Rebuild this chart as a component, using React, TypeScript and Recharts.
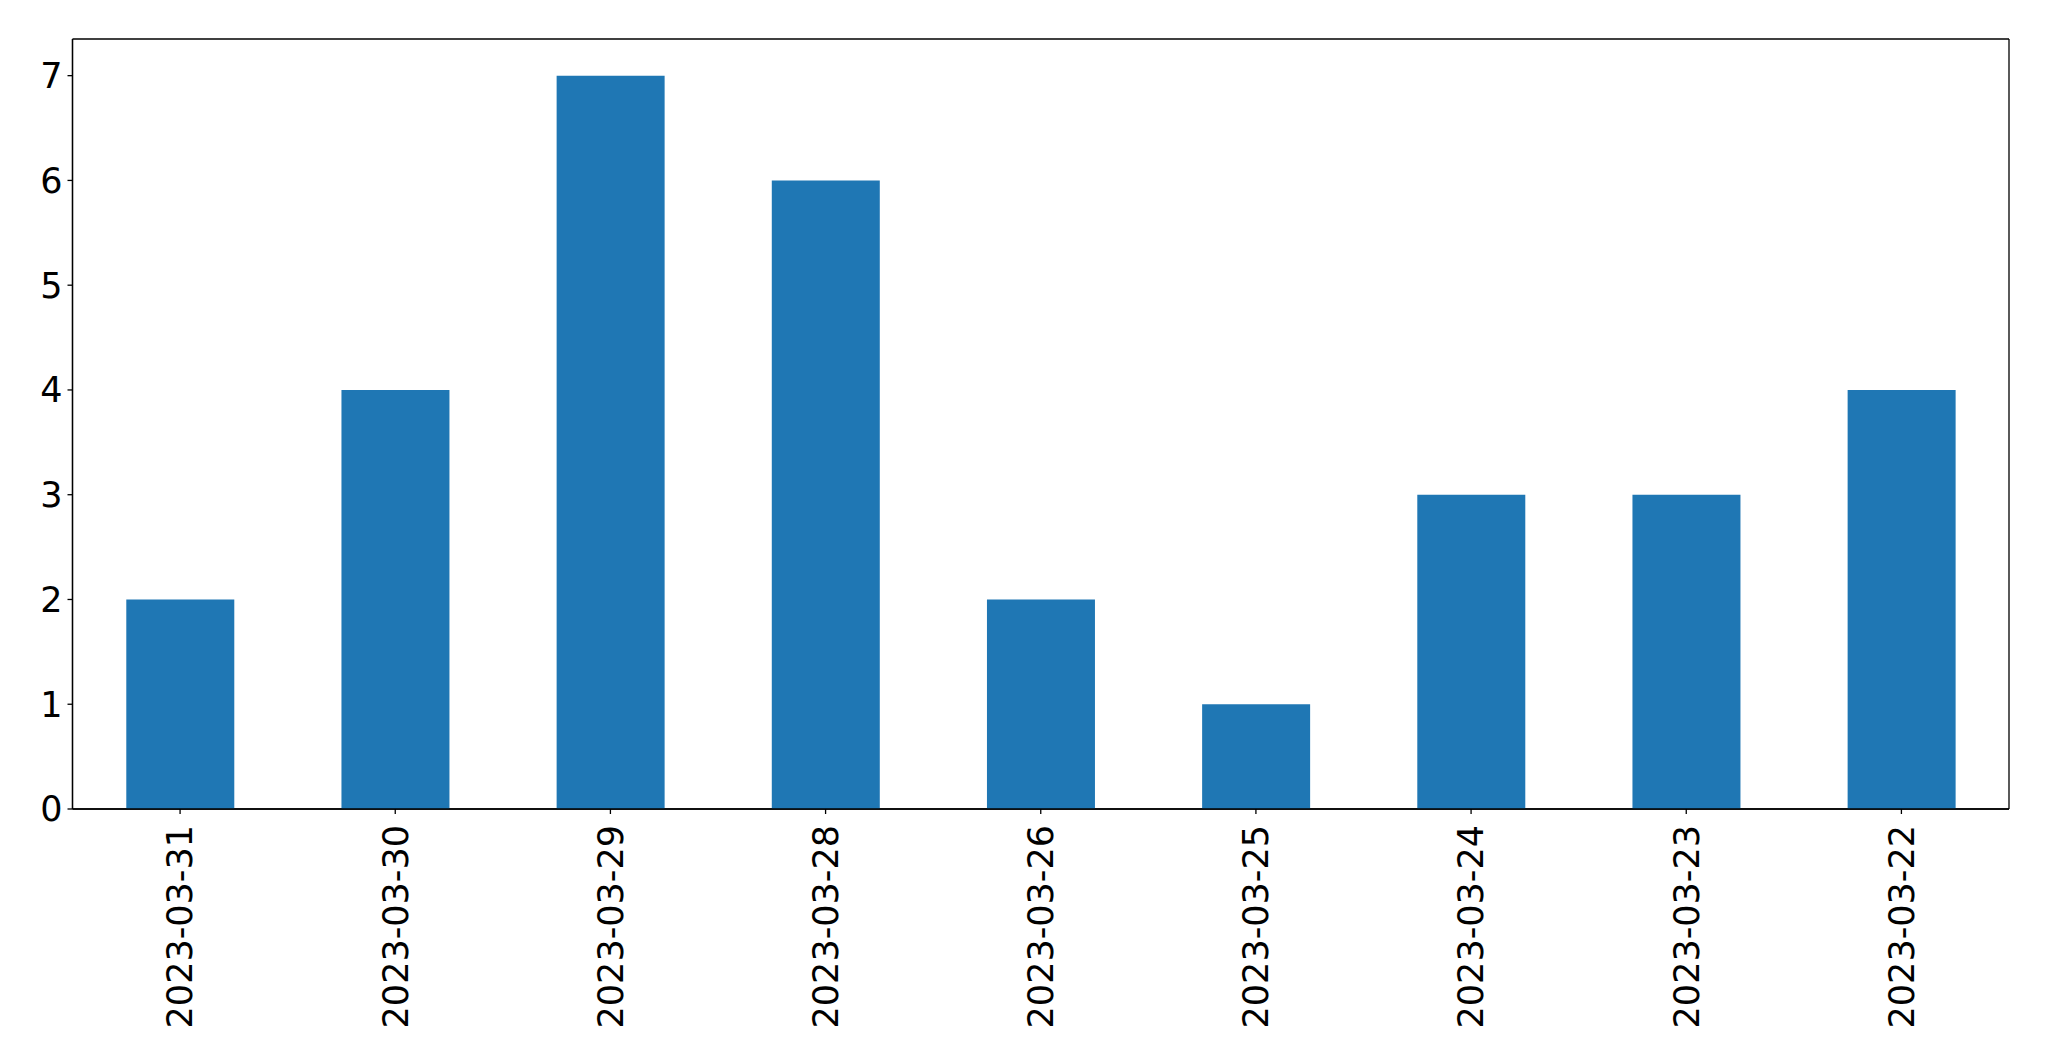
import { BarChart, Bar, XAxis, YAxis, CartesianGrid } from 'recharts';

const dates = [
  '2023-03-31',
  '2023-03-30',
  '2023-03-29',
  '2023-03-28',
  '2023-03-26',
  '2023-03-25',
  '2023-03-24',
  '2023-03-23',
  '2023-03-22',
];
const counts = [2, 4, 7, 6, 2, 1, 3, 3, 4];
const yTicks = [0, 1, 2, 3, 4, 5, 6, 7];

const data = dates.map((d, i) => ({ date: d, count: counts[i] }));

const FONT = '"DejaVu Sans", sans-serif';

function DateTick(props: any) {
  const { x, y, payload } = props;
  return (
    <text
      x={x}
      y={y}
      dy="0.35em"
      transform={`rotate(-90, ${x}, ${y})`}
      textAnchor="end"
      fill="#000"
      fontSize={35}
      fontFamily={FONT}
    >
      {payload.value}
    </text>
  );
}

// frame lines on the plot edges (matplotlib-style box)
const frameRows = ({ offset }: any) => [offset.top, offset.top + offset.height];
const frameCols = ({ offset }: any) => [offset.left, offset.left + offset.width];

export default function App() {
  return (
    <div style={{ width: 2033, height: 1045, background: '#fff' }}>
      <BarChart
        width={2033}
        height={1045}
        data={data}
        barCategoryGap="25%"
        margin={{ top: 31, right: 32, left: 0, bottom: 0 }}
      >
        <CartesianGrid
          stroke="#000"
          strokeWidth={1.3}
          horizontalCoordinatesGenerator={frameRows}
          verticalCoordinatesGenerator={frameCols}
        />
        <XAxis
          dataKey="date"
          height={244}
          stroke="#000"
          strokeWidth={1.3}
          tickSize={5}
          tickMargin={11}
          tick={<DateTick />}
          interval={0}
        />
        <YAxis
          width={64.5}
          domain={[0, 7.35]}
          ticks={yTicks}
          allowDataOverflow
          stroke="#000"
          strokeWidth={1.3}
          tickSize={5}
          tickMargin={5}
          tick={{ fill: '#000', fontSize: 35, fontFamily: FONT }}
        />
        <Bar dataKey="count" fill="#1f77b4" isAnimationActive={false} />
      </BarChart>
    </div>
  );
}
